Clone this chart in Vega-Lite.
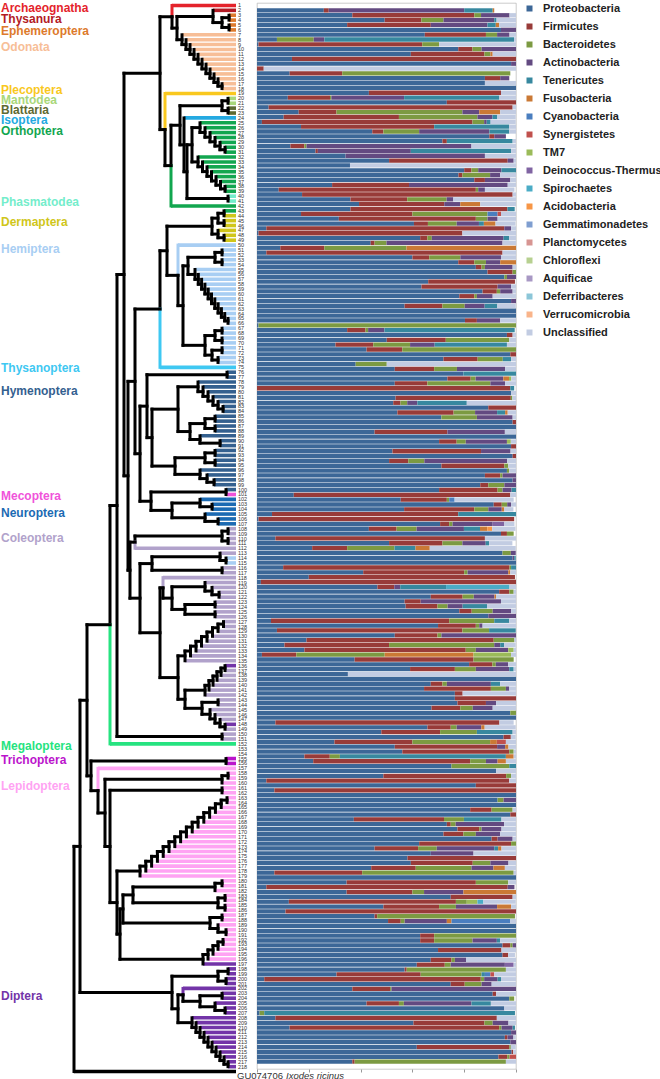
{
"padding":{"left":0,"top":1,"right":0,"bottom":0},
"background":"white",
"spacing":2,
"bounds":"flush",
"resolve":{"scale":{"color":"independent","x":"independent","y":"independent"},"legend":{"color":"independent"}},
"config":{"font":"Liberation Sans","view":{"stroke":null}},
"datasets":{
"phyla":[{"k":"P","name":"Proteobacteria","ord":1},{"k":"F","name":"Firmicutes","ord":2},{"k":"B","name":"Bacteroidetes","ord":3},{"k":"A","name":"Actinobacteria","ord":4},{"k":"T","name":"Tenericutes","ord":5},{"k":"Fu","name":"Fusobacteria","ord":6},{"k":"C","name":"Cyanobacteria","ord":7},{"k":"S","name":"Synergistetes","ord":8},{"k":"TM","name":"TM7","ord":9},{"k":"D","name":"Deinococcus-Thermus","ord":10},{"k":"Sp","name":"Spirochaetes","ord":11},{"k":"Ac","name":"Acidobacteria","ord":12},{"k":"G","name":"Gemmatimonadetes","ord":13},{"k":"Pl","name":"Planctomycetes","ord":14},{"k":"Ch","name":"Chloroflexi","ord":15},{"k":"Aq","name":"Aquificae","ord":16},{"k":"De","name":"Deferribacteres","ord":17},{"k":"V","name":"Verrucomicrobia","ord":18},{"k":"U","name":"Unclassified","ord":19}],
"bars":[
{"i":1,"P":25.8,"F":1.9,"A":52.3,"T":11,"Fu":0.6},
{"i":2,"P":36.8,"F":47.1,"B":2.6,"A":11,"U":2.5},
{"i":3,"P":49.3,"F":14.2,"B":8.5,"A":19.6,"T":0.9,"U":7.5},
{"i":4,"P":34.8,"F":32.3,"A":21.9,"T":3.2,"Fu":1.3,"U":6.5},
{"i":5,"P":94.2,"A":5.8},
{"i":6,"P":64.8,"F":23.6,"B":4.3,"A":4.8,"U":2.5},
{"i":7,"P":7.7,"B":14.2,"A":4.1,"T":73.3,"U":0.7},
{"i":8,"P":0.6,"F":63.2,"B":6.5,"U":29.7},
{"i":9,"P":77.7,"F":5.5,"B":3.5,"A":13.3},
{"i":10,"P":59.4,"F":28.4,"B":2.3,"Fu":0.9,"U":9},
{"i":11,"P":13.5,"F":86.5},
{"i":12,"P":98.1,"A":1.9},
{"i":13,"F":2.6,"U":97.4},
{"i":14,"P":12.6,"F":20.3,"B":64.9},
{"i":15,"P":88,"F":5.9,"A":3.5},
{"i":16,"P":88,"U":12},
{"i":17,"P":100},
{"i":18,"P":43.2,"F":51,"U":5.8},
{"i":19,"P":11.9,"F":16.3,"B":0.5,"A":28.1,"T":36.8,"U":6.4},
{"i":20,"P":73.3,"F":26.7},
{"i":21,"P":4.5,"F":94.2,"U":1.3},
{"i":22,"P":16.1,"F":14.6,"B":48.6,"A":6.5,"Fu":8.1,"U":6.1},
{"i":23,"P":10.3,"F":44.5,"B":30.3,"A":5.8,"T":1.9,"U":7.1},
{"i":24,"P":1.9,"F":81.3,"B":4.5,"A":1,"T":1.5,"U":9.7},
{"i":25,"P":17,"F":51.4,"T":29,"U":2.6},
{"i":26,"P":44.5,"F":4.3,"B":13.8,"A":27.1,"T":7.7,"U":2.6},
{"i":27,"P":89.7,"F":1.9,"A":4.5},
{"i":28,"P":71.6,"F":1.7,"T":25.4,"U":1.3},
{"i":29,"P":12.9,"F":5.4,"B":0.8,"A":63.7,"U":17.2},
{"i":30,"P":22.6,"F":0.9,"A":35.9,"T":38.7,"U":1.9},
{"i":31,"P":34.2,"A":53.8,"U":12},
{"i":32,"P":51,"F":45.8,"A":2.3,"U":0.9},
{"i":33,"P":35.9,"U":64.1},
{"i":34,"P":80,"F":2.8,"B":2.6,"A":9,"T":5.6},
{"i":35,"P":77.8,"F":1.5,"B":10.7,"A":3.9,"U":6.1},
{"i":36,"P":83.9,"F":4.1,"A":9.8,"U":2.2},
{"i":37,"P":29,"F":29.7,"A":38.1,"U":3.2},
{"i":38,"P":8.4,"F":76.1,"B":0.9,"A":2.6,"U":11.4},
{"i":39,"P":17.4,"F":81.3,"U":1.3},
{"i":40,"P":36.1,"F":21.9,"B":15.2,"A":2.6,"U":24.2},
{"i":41,"P":39.4,"F":32.9,"A":6.2,"Fu":7.7,"U":13.8},
{"i":42,"P":36.1,"F":60.6,"T":2.8},
{"i":43,"P":17,"F":43,"B":29,"C":3.9,"S":1.3,"U":5.8},
{"i":44,"P":31.6,"F":52.9,"B":4.5,"A":3.9,"U":7.1},
{"i":45,"P":60.6,"F":5.4,"B":11.1,"A":8.6,"T":1.9,"Fu":4.5,"U":7.7},
{"i":46,"P":3.6,"F":91.9,"A":2.6,"U":1.9},
{"i":47,"P":0.6,"F":78.7,"U":20.7},
{"i":48,"P":63,"F":2.8,"B":1.7,"A":27.7,"T":2.2,"U":2.6},
{"i":49,"P":43.9,"F":1.5,"B":4.6,"A":44.8,"U":5.2},
{"i":50,"P":9,"F":17,"B":31.7,"Fu":42.3},
{"i":51,"P":3.6,"F":91.2,"U":5.2},
{"i":52,"P":60,"F":6.5,"B":12,"A":15.7,"U":5.8},
{"i":53,"P":77.7,"F":6.2,"B":4.5,"A":5.5,"Fu":6.1},
{"i":54,"P":84.5,"F":2.2,"B":1.3,"A":10.7,"U":1.3},
{"i":55,"P":89,"F":9.7,"B":1.3},
{"i":56,"P":95.5,"B":1,"A":3.5},
{"i":57,"P":66.1,"F":33.5},
{"i":58,"P":63.5,"F":29.4,"A":5.2,"U":1.9},
{"i":59,"P":87.1,"F":5.5,"B":1.3,"A":4.8,"U":1.3},
{"i":60,"P":78.1,"F":5.8,"B":1,"A":6.1,"U":9},
{"i":61,"P":98.1,"A":1.9},
{"i":62,"P":57,"F":14.6,"B":8.6,"A":7.7,"T":4.9,"U":7.1},
{"i":63,"P":100},
{"i":64,"P":100},
{"i":65,"P":80.3,"F":4.6,"A":9,"U":6.1},
{"i":66,"P":0.6,"B":99.4},
{"i":67,"P":34.8,"F":7.1,"B":1,"A":6.3,"T":50.3},
{"i":68,"P":96.5,"F":2.2,"U":1.3},
{"i":69,"P":50.1,"F":22.8,"B":24.5,"U":2.6},
{"i":70,"P":30.3,"F":14.6,"B":14.2,"A":9.5,"T":27.9,"U":3.5},
{"i":71,"P":42.3,"F":13.8,"B":43.9},
{"i":72,"P":97.8,"F":2.2},
{"i":73,"P":72,"F":13.2,"B":9.7,"T":3.2,"U":1.9},
{"i":74,"P":38.1,"B":12,"U":49.9},
{"i":75,"P":53.2,"F":15.2,"B":8.8,"A":18.6,"U":4.2},
{"i":76,"P":79.7,"T":20.3},
{"i":77,"P":73.5,"F":9,"B":1.9,"A":10.7,"Fu":2.2,"TM":0.9,"U":1.8},
{"i":78,"P":53.2,"F":12.6,"B":24.3,"A":5.7,"U":4.2},
{"i":79,"F":97.8,"T":1.5},
{"i":80,"P":98.1,"U":1.9},
{"i":81,"P":53.5,"F":44.5,"B":0.6,"U":1.4},
{"i":82,"P":52.6,"F":2.8,"B":2.6,"A":3.9,"T":19.1,"U":19},
{"i":83,"P":89.3,"F":10.7},
{"i":84,"P":54.2,"F":21.7,"B":8.3,"A":8.5,"T":3.1,"Fu":1,"U":3.2},
{"i":85,"P":71.2,"B":13.7,"A":13.8,"U":1.3},
{"i":86,"P":98.7,"F":1.3},
{"i":87,"P":100},
{"i":88,"P":45.4,"F":28.1,"A":22.2,"U":4.3},
{"i":89,"P":100},
{"i":90,"P":70.3,"F":6.8,"B":3.5,"A":15.9,"TM":1.5,"U":2},
{"i":91,"P":98.1,"F":1.9},
{"i":92,"P":52.3,"F":34.2,"A":11.4,"U":2.1},
{"i":93,"P":98.7,"F":1.3},
{"i":94,"P":51,"F":7.4,"B":6.2,"A":32,"U":3.4},
{"i":95,"P":71.2,"F":24.3,"B":1.5,"U":3},
{"i":96,"P":96.5,"B":0.9,"U":2.6},
{"i":97,"P":88,"F":5.9,"B":0.9,"A":5.2},
{"i":98,"P":98.7,"A":1.3},
{"i":99,"P":86.2,"F":3.1,"B":6.2,"A":4.5},
{"i":100,"P":70.3,"F":22.6,"B":1.9,"A":3.5,"T":1.7},
{"i":101,"P":14.2,"F":83.6,"U":2.2},
{"i":102,"P":55.5,"F":17.8,"B":0.9,"C":2.1,"U":22.8},
{"i":103,"P":91.4,"F":3.1,"B":2.1,"A":1.5,"U":1.9},
{"i":104,"P":56.8,"F":27.1,"B":5.4,"A":5.2,"Fu":1,"U":3.5},
{"i":105,"P":5.8,"F":71.9,"T":22.3},
{"i":106,"P":0.6,"F":98.7},
{"i":107,"P":70.7,"F":3.5,"B":1.3,"A":15.5,"D":4.5,"U":3.9},
{"i":108,"P":43.2,"F":10.7,"B":7.7,"A":18.3,"T":6.2,"Fu":2.8,"Ac":1.9,"U":9},
{"i":109,"P":94.2,"F":2.3,"B":2.6},
{"i":110,"P":7.1,"F":80.9,"U":12},
{"i":111,"P":51,"F":20.6,"B":7.7,"A":9,"T":1.3,"U":9},
{"i":112,"P":21.3,"F":13.5,"B":18.3,"T":8.1,"Fu":5.5,"U":33.2},
{"i":113,"P":94.8,"B":3.2,"A":1.9},
{"i":114,"P":98.7,"A":0.6,"T":0.6},
{"i":115,"P":100},
{"i":116,"P":10.1,"F":87.4,"B":0.6,"T":1.9},
{"i":117,"P":41,"F":39,"B":1.3,"A":15.7,"Fu":0.8,"U":2.2},
{"i":118,"P":20,"F":79.6},
{"i":119,"P":1.5,"F":98.5},
{"i":120,"P":46.5,"F":6.5,"A":2.3,"T":17.7,"Sp":24.5,"U":2.5},
{"i":121,"P":93.5,"F":3.9,"B":1.7,"U":0.9},
{"i":122,"P":67.1,"F":12.3,"B":4.3,"A":8,"Fu":0.6,"U":7.7},
{"i":123,"P":57,"F":6.2,"A":31,"U":5.8},
{"i":124,"P":57.4,"F":12.3,"B":3.9,"A":5.8,"T":9.4,"U":11.2},
{"i":125,"P":78.1,"F":4.8,"B":8.1,"A":7.1,"U":1.9},
{"i":126,"P":89.3,"A":10.7},
{"i":127,"P":5.4,"F":68.8,"B":17.4,"T":5.8,"U":2.6},
{"i":128,"P":69.9,"F":14.6,"B":1.3,"A":1.3,"U":12.9},
{"i":129,"P":7.7,"F":71.6,"B":10.3,"T":10.3},
{"i":130,"P":53.2,"F":16.5,"B":1.5,"A":28.8},
{"i":131,"P":19.1,"F":72.3,"B":8,"U":0.6},
{"i":132,"P":10.6,"F":40.4,"B":40.6,"A":2.3,"T":1.5,"U":4.5},
{"i":133,"P":18.3,"F":62.3,"B":3.9,"A":12.5,"TM":2.1,"U":0.9},
{"i":134,"P":1.9,"F":13.3,"B":34.1,"Fu":34.3,"TM":14.5,"U":1.9},
{"i":135,"P":37.7,"F":45.9,"B":15.5},
{"i":136,"P":81.9,"F":9,"B":1.3,"A":4.8,"U":3},
{"i":137,"P":59.1,"F":17.3,"B":8.1,"A":12.9,"T":1.7,"U":0.9},
{"i":138,"P":35.1,"U":64.9},
{"i":139,"P":100},
{"i":140,"P":67.1,"F":4.5,"B":1.7,"A":17,"T":3.6,"U":6.1},
{"i":141,"P":64.5,"F":25.8,"B":5.8,"A":1.3,"U":2.6},
{"i":142,"P":76.4,"F":3,"U":20.6},
{"i":143,"P":76.4,"F":23.6},
{"i":144,"P":77.4,"F":11,"A":3.9,"U":7.7},
{"i":145,"P":67.4,"F":11.1,"B":4.8,"A":7.7,"U":9},
{"i":146,"P":97.8,"B":2.2},
{"i":147,"P":100},
{"i":148,"P":7.1,"F":86.5,"U":5.5},
{"i":149,"P":65.8,"F":9,"B":2.3,"A":9.5,"Fu":1.3,"U":12},
{"i":150,"P":48,"F":22.7,"B":14.2,"T":13.8,"U":1.3},
{"i":151,"P":95.2,"F":2.8,"U":1.9},
{"i":152,"P":29.9,"F":30.1,"B":30,"Fu":2.6,"S":3.5,"U":3.9},
{"i":153,"P":53.2,"F":39.5,"A":3.1,"Fu":1.3,"U":2.9},
{"i":154,"P":56.1,"F":41.3,"B":1.7,"U":0.9},
{"i":155,"P":18.3,"F":9.8,"B":3.9,"T":64.1,"Fu":3,"U":0.9},
{"i":156,"P":21.7,"F":60.6,"B":6.1,"A":4.5,"Fu":3.2,"U":3.9},
{"i":157,"P":75.1,"B":22.3,"T":2.6},
{"i":158,"P":92.3,"U":7.7},
{"i":159,"P":48.8,"F":47.4,"B":1.9,"U":1.9},
{"i":160,"P":3.6,"F":93.8,"U":2.6},
{"i":161,"P":84.5,"F":15.5},
{"i":162,"P":6.7,"F":93.3},
{"i":163,"P":100},
{"i":164,"P":92.9,"B":2.3,"A":4.8},
{"i":165,"P":100},
{"i":166,"P":82.3,"F":8.3,"B":8.1,"U":1.3},
{"i":167,"P":97.8,"F":2.2},
{"i":168,"P":37.4,"F":34.8,"B":7.7,"T":14.5,"U":5.6},
{"i":169,"P":73.3,"F":1.5,"B":1.9,"A":18.7,"U":4.6},
{"i":170,"P":77.4,"F":8.4,"B":0.9,"A":7.7,"U":5.6},
{"i":171,"P":72,"F":7.7,"B":4.8,"A":9.4,"U":6.1},
{"i":172,"P":90.6,"F":2.3,"A":5.8,"U":1.3},
{"i":173,"P":62.6,"F":35.5,"B":1.9},
{"i":174,"P":45.4,"F":16.8,"B":7.2,"A":22.2,"T":1.5,"Fu":1.3,"U":5.6},
{"i":175,"P":67.1,"A":16.5,"U":16.4},
{"i":176,"P":58.1,"F":41.9},
{"i":177,"P":59.4,"F":23.9,"B":6.8,"A":7,"U":2.9},
{"i":178,"P":44.1,"F":17.2,"B":21.5,"A":8.5,"Fu":4.4,"U":4.3},
{"i":179,"P":6.7,"F":33.9,"B":58.5,"U":0.9},
{"i":180,"P":100},
{"i":181,"P":34.6,"F":49.9,"B":12.5,"U":3},
{"i":182,"P":3.6,"F":93.2,"A":2.6},
{"i":183,"P":34.6,"F":25.4,"B":4.5,"A":15.2,"Fu":20.3},
{"i":184,"P":74.8,"F":23.9,"U":1.3},
{"i":185,"P":12.3,"F":64.5,"B":4.2,"TM":4.1,"Sp":2.3,"U":12.5},
{"i":186,"P":48.8,"F":21.5,"B":6.5,"A":15.9,"Fu":5.4,"U":1.9},
{"i":187,"P":11,"F":89},
{"i":188,"P":45.4,"F":1,"B":53.2},
{"i":189,"P":50.6,"F":4.9,"B":1.5,"A":16.3,"Fu":1.8,"C":22.7,"U":2.2},
{"i":190,"P":100},
{"i":191,"P":100},
{"i":192,"P":63,"F":5.4,"B":31.6},
{"i":193,"P":63,"F":5.4,"B":14.8,"A":9.4,"T":1.3,"U":6.1},
{"i":194,"P":94.8,"F":3,"B":0.9,"A":1.3},
{"i":195,"P":69.9,"F":24.5,"U":5.6},
{"i":196,"P":94.8,"F":2.2,"U":2.6},
{"i":197,"P":67.1,"F":8,"B":1.3,"A":4.3,"U":19.3},
{"i":198,"P":61.7,"F":10.8,"B":2.3,"A":20.9,"D":3.4,"U":0.9},
{"i":199,"P":57,"F":0.8,"B":38.3,"U":3.9},
{"i":200,"P":30.7,"F":32.5,"B":23.5,"T":1.3,"C":2.1,"S":1.5,"U":8.4},
{"i":201,"P":2.8,"F":83.6,"B":1.3,"A":5.2,"T":1.3,"U":5.8},
{"i":202,"P":74.8,"F":5.4,"B":6.5,"A":3.9,"U":9.4},
{"i":203,"P":36.8,"F":14.6,"B":0.5,"A":48.1},
{"i":204,"P":91,"F":1.3,"U":7.7},
{"i":205,"P":97.4,"B":1.9},
{"i":206,"P":42.3,"F":12.5,"B":1.9,"A":26.1,"T":7.5,"U":9.7},
{"i":207,"P":95.5,"U":4.5},
{"i":208,"P":1,"B":1.8,"T":96.8},
{"i":209,"P":7.1,"F":85.5,"U":7.4},
{"i":210,"P":60.4,"F":27.4,"B":3.2,"A":6.1,"U":2.9},
{"i":211,"P":12.6,"F":80.9,"B":0.9,"A":4.3,"T":0.9},
{"i":212,"P":98.1,"A":1.9},
{"i":213,"P":95.7,"F":1,"A":2.3,"U":0.9},
{"i":214,"P":97.8,"A":2.2},
{"i":215,"P":61.7,"F":35.7,"B":0.6,"U":1.9},
{"i":216,"P":98.3,"F":0.6,"U":1.1},
{"i":217,"P":93.2,"F":3.4,"B":0.9,"S":2.5},
{"i":218,"P":36.8,"F":0.9,"B":58.4,"U":3.9}
],
"orders":[
{"t":"Archaeognatha","r":1.51,"g":"AR"},{"t":"Thysanura","r":3.76,"g":"TH"},{"t":"Ephemeroptera","r":6.22,"g":"EP"},{"t":"Odonata","r":9.49,"g":"OD"},{"t":"Plecoptera","r":18.28,"g":"PL"},{"t":"Mantodea","r":20.33,"g":"MA"},{"t":"Blattaria","r":22.38,"g":"BL"},{"t":"Isoptera","r":24.42,"g":"IS"},{"t":"Orthoptera","r":26.67,"g":"OR"},{"t":"Phasmatodea","r":41.19,"g":"PH"},{"t":"Dermaptera","r":45.28,"g":"DE"},{"t":"Hemiptera","r":50.8,"g":"HE"},{"t":"Thysanoptera","r":75.15,"g":"TY"},{"t":"Hymenoptera","r":79.86,"g":"HY"},{"t":"Mecoptera","r":101.33,"g":"ME"},{"t":"Neuroptera","r":104.8,"g":"NE"},{"t":"Coleoptera","r":109.93,"g":"CO"},{"t":"Megaloptera","r":152.46,"g":"MG"},{"t":"Trichoptera","r":155.33,"g":"TR"},{"t":"Lepidoptera","r":160.64,"g":"LE"},{"t":"Diptera","r":203.6,"g":"DI"}
],
"outg":[{"r":219,"a":"GU074706","b":"Ixodes ricinus"}],
"leaves":[
{"r":1,"x":172,"g":"AR"},{"r":2,"x":213,"g":"TH"},{"r":3,"x":229,"g":"EP"},{"r":4,"x":229,"g":"EP"},{"r":5,"x":229,"g":"EP"},{"r":6,"x":229,"g":"EP"},
{"r":7,"x":182,"g":"OD"},{"r":8,"x":186,"g":"OD"},{"r":9,"x":190,"g":"OD"},{"r":10,"x":194,"g":"OD"},{"r":11,"x":198,"g":"OD"},{"r":12,"x":202,"g":"OD"},{"r":13,"x":206,"g":"OD"},{"r":14,"x":210,"g":"OD"},{"r":15,"x":214,"g":"OD"},{"r":16,"x":218,"g":"OD"},{"r":17,"x":222,"g":"OD"},{"r":18,"x":222,"g":"OD"},
{"r":19,"x":165,"g":"PL"},{"r":20,"x":228,"g":"MA"},{"r":21,"x":228,"g":"MA"},{"r":22,"x":228,"g":"BL"},{"r":23,"x":228,"g":"BL"},{"r":24,"x":184,"g":"IS"},
{"r":25,"x":200,"g":"OR"},{"r":26,"x":205,"g":"OR"},{"r":27,"x":210,"g":"OR"},{"r":28,"x":215,"g":"OR"},{"r":29,"x":220,"g":"OR"},{"r":30,"x":225,"g":"OR"},{"r":31,"x":225,"g":"OR"},
{"r":32,"x":198,"g":"OR"},{"r":33,"x":202.5,"g":"OR"},{"r":34,"x":207,"g":"OR"},{"r":35,"x":211.5,"g":"OR"},{"r":36,"x":216,"g":"OR"},{"r":37,"x":220.5,"g":"OR"},{"r":38,"x":225,"g":"OR"},{"r":39,"x":225,"g":"OR"},
{"r":40,"x":228,"g":"PH"},{"r":41,"x":228,"g":"PH"},{"r":42,"x":171,"g":"OR"},
{"r":43,"x":224,"g":"OR"},{"r":44,"x":224,"g":"DE"},{"r":45,"x":224,"g":"DE"},{"r":46,"x":224,"g":"DE"},{"r":47,"x":218,"g":"DE"},{"r":48,"x":224,"g":"DE"},{"r":49,"x":224,"g":"DE"},
{"r":50,"x":178,"g":"HE"},{"r":51,"x":222,"g":"HE"},{"r":52,"x":222,"g":"HE"},{"r":53,"x":222,"g":"HE"},{"r":54,"x":222,"g":"HE"},
{"r":55,"x":195,"g":"HE"},{"r":56,"x":198.3,"g":"HE"},{"r":57,"x":201.6,"g":"HE"},{"r":58,"x":204.9,"g":"HE"},{"r":59,"x":208.2,"g":"HE"},{"r":60,"x":211.5,"g":"HE"},{"r":61,"x":214.8,"g":"HE"},{"r":62,"x":218.1,"g":"HE"},{"r":63,"x":221.4,"g":"HE"},{"r":64,"x":224.7,"g":"HE"},{"r":65,"x":228,"g":"HE"},{"r":66,"x":228,"g":"HE"},
{"r":67,"x":222,"g":"HE"},{"r":68,"x":222,"g":"HE"},{"r":69,"x":222,"g":"HE"},{"r":70,"x":222,"g":"HE"},{"r":71,"x":222,"g":"HE"},{"r":72,"x":222,"g":"HE"},{"r":73,"x":218,"g":"HE"},{"r":74,"x":218,"g":"HE"},
{"r":75,"x":160,"g":"TY"},{"r":76,"x":227,"g":"HY"},{"r":77,"x":227,"g":"HY"},
{"r":78,"x":198,"g":"HY"},{"r":79,"x":203,"g":"HY"},{"r":80,"x":208,"g":"HY"},{"r":81,"x":213,"g":"HY"},{"r":82,"x":218,"g":"HY"},{"r":83,"x":223,"g":"HY"},{"r":84,"x":223,"g":"HY"},
{"r":85,"x":215,"g":"HY"},{"r":86,"x":215,"g":"HY"},{"r":87,"x":215,"g":"HY"},{"r":88,"x":215,"g":"HY"},{"r":89,"x":200,"g":"HY"},{"r":90,"x":220,"g":"HY"},{"r":91,"x":220,"g":"HY"},
{"r":92,"x":215,"g":"HY"},{"r":93,"x":215,"g":"HY"},{"r":94,"x":215,"g":"HY"},{"r":95,"x":215,"g":"HY"},{"r":96,"x":200,"g":"HY"},{"r":97,"x":207,"g":"HY"},{"r":98,"x":214,"g":"HY"},{"r":99,"x":214,"g":"HY"},
{"r":100,"x":226,"g":"HY"},{"r":101,"x":226,"g":"ME"},
{"r":102,"x":200,"g":"NE"},{"r":103,"x":212,"g":"NE"},{"r":104,"x":212,"g":"NE"},{"r":105,"x":205,"g":"NE"},{"r":106,"x":218,"g":"NE"},{"r":107,"x":218,"g":"NE"},
{"r":108,"x":228,"g":"CO"},{"r":109,"x":228,"g":"CO"},{"r":110,"x":228,"g":"CO"},{"r":111,"x":228,"g":"CO"},{"r":112,"x":135,"g":"CO"},
{"r":113,"x":220,"g":"CO"},{"r":114,"x":226,"g":"HE"},{"r":115,"x":226,"g":"HE"},{"r":116,"x":222,"g":"CO"},{"r":117,"x":222,"g":"CO"},
{"r":118,"x":163,"g":"CO"},{"r":119,"x":205,"g":"CO"},{"r":120,"x":212,"g":"CO"},{"r":121,"x":219,"g":"CO"},{"r":122,"x":219,"g":"CO"},
{"r":123,"x":215,"g":"CO"},{"r":124,"x":215,"g":"CO"},{"r":125,"x":215,"g":"CO"},{"r":126,"x":215,"g":"CO"},
{"r":127,"x":223.5,"g":"CO"},{"r":128,"x":223.5,"g":"CO"},{"r":129,"x":218,"g":"CO"},{"r":130,"x":212.5,"g":"CO"},{"r":131,"x":207,"g":"CO"},{"r":132,"x":201.5,"g":"CO"},{"r":133,"x":196,"g":"CO"},{"r":134,"x":190.5,"g":"CO"},{"r":135,"x":185,"g":"CO"},
{"r":136,"x":225,"g":"DI"},{"r":137,"x":225,"g":"CO"},{"r":138,"x":221,"g":"CO"},{"r":139,"x":217,"g":"CO"},{"r":140,"x":213,"g":"CO"},{"r":141,"x":209,"g":"CO"},{"r":142,"x":205,"g":"CO"},
{"r":143,"x":218,"g":"CO"},{"r":144,"x":218,"g":"CO"},{"r":145,"x":210,"g":"CO"},{"r":146,"x":215,"g":"CO"},{"r":147,"x":220,"g":"CO"},{"r":148,"x":225,"g":"DI"},{"r":149,"x":225,"g":"CO"},
{"r":150,"x":222,"g":"CO"},{"r":151,"x":222,"g":"CO"},{"r":152,"x":110,"g":"MG"},
{"r":155,"x":226,"g":"TR"},{"r":156,"x":226,"g":"TR"},{"r":157,"x":98,"g":"LE"},
{"r":158,"x":228,"g":"LE"},{"r":159,"x":228,"g":"LE"},{"r":160,"x":222,"g":"LE"},{"r":161,"x":222,"g":"LE"},{"r":162,"x":222,"g":"LE"},
{"r":163,"x":227,"g":"LE"},{"r":164,"x":227,"g":"LE"},{"r":165,"x":221.2,"g":"LE"},{"r":166,"x":215.4,"g":"LE"},{"r":167,"x":209.6,"g":"LE"},{"r":168,"x":203.8,"g":"LE"},{"r":169,"x":198,"g":"LE"},{"r":170,"x":192.2,"g":"LE"},{"r":171,"x":186.4,"g":"LE"},{"r":172,"x":180.6,"g":"LE"},{"r":173,"x":174.8,"g":"LE"},{"r":174,"x":169,"g":"LE"},{"r":175,"x":163.2,"g":"LE"},{"r":176,"x":157.4,"g":"LE"},{"r":177,"x":151.6,"g":"LE"},{"r":178,"x":145.8,"g":"LE"},{"r":179,"x":140,"g":"LE"},
{"r":180,"x":222,"g":"LE"},{"r":181,"x":222,"g":"LE"},{"r":182,"x":215,"g":"LE"},{"r":183,"x":225,"g":"LE"},{"r":184,"x":225,"g":"LE"},{"r":185,"x":225,"g":"LE"},{"r":186,"x":225,"g":"LE"},
{"r":187,"x":222,"g":"LE"},{"r":188,"x":222,"g":"LE"},{"r":189,"x":218,"g":"LE"},{"r":190,"x":226,"g":"LE"},{"r":191,"x":226,"g":"LE"},
{"r":192,"x":223,"g":"LE"},{"r":193,"x":223,"g":"LE"},{"r":194,"x":218,"g":"LE"},{"r":195,"x":213,"g":"LE"},{"r":196,"x":208,"g":"LE"},{"r":197,"x":203,"g":"DI"},
{"r":198,"x":228,"g":"DI"},{"r":199,"x":228,"g":"DI"},{"r":200,"x":226,"g":"DI"},{"r":201,"x":226,"g":"DI"},{"r":202,"x":183,"g":"DI"},
{"r":203,"x":222,"g":"DI"},{"r":204,"x":222,"g":"DI"},{"r":205,"x":215,"g":"DI"},{"r":206,"x":225,"g":"DI"},{"r":207,"x":225,"g":"DI"},
{"r":208,"x":192,"g":"DI"},{"r":209,"x":196,"g":"DI"},{"r":210,"x":200,"g":"DI"},{"r":211,"x":204,"g":"DI"},{"r":212,"x":208,"g":"DI"},{"r":213,"x":212,"g":"DI"},{"r":214,"x":216,"g":"DI"},{"r":215,"x":220,"g":"DI"},{"r":216,"x":224,"g":"DI"},{"r":217,"x":228,"g":"DI"},{"r":218,"x":228,"g":"DI"},
{"r":219,"x":74,"g":"k"}
],
"vs":[
{"x":172,"y":1,"y2":3.31,"g":"AR"},{"x":172,"y":3.31,"y2":5.63,"g":"k"},{"x":177,"y":3.25,"y2":8,"g":"k"},{"x":213,"y":2,"y2":4.5,"g":"k"},{"x":222,"y":3.5,"y2":5.5,"g":"k"},{"x":229,"y":3,"y2":4,"g":"k"},{"x":229,"y":5,"y2":6,"g":"k"},
{"x":182,"y":7,"y2":9,"g":"k"},{"x":186,"y":8,"y2":10,"g":"k"},{"x":190,"y":9,"y2":11,"g":"k"},{"x":194,"y":10,"y2":11.99,"g":"k"},{"x":198,"y":11,"y2":12.98,"g":"k"},{"x":202,"y":12,"y2":13.97,"g":"k"},{"x":206,"y":13,"y2":14.94,"g":"k"},{"x":210,"y":14,"y2":15.88,"g":"k"},{"x":214,"y":15,"y2":16.75,"g":"k"},{"x":218,"y":16,"y2":17.5,"g":"k"},{"x":222,"y":17,"y2":18,"g":"k"},
{"x":160,"y":3.31,"y2":26.38,"g":"k"},{"x":165,"y":19,"y2":26.38,"g":"PL"},{"x":165,"y":26.38,"y2":33.75,"g":"k"},{"x":171,"y":25.5,"y2":33.75,"g":"k"},{"x":171,"y":33.75,"y2":42,"g":"OR"},
{"x":180,"y":21.5,"y2":29.5,"g":"k"},{"x":222,"y":20.5,"y2":22.5,"g":"k"},{"x":228,"y":20,"y2":21,"g":"k"},{"x":228,"y":22,"y2":23,"g":"k"},{"x":184,"y":24,"y2":35,"g":"k"},{"x":187,"y":29.49,"y2":40.5,"g":"k"},{"x":192,"y":25.98,"y2":32.99,"g":"k"},
{"x":200,"y":25,"y2":26.97,"g":"k"},{"x":205,"y":26,"y2":27.94,"g":"k"},{"x":210,"y":27,"y2":28.88,"g":"k"},{"x":215,"y":28,"y2":29.75,"g":"k"},{"x":220,"y":29,"y2":30.5,"g":"k"},{"x":225,"y":30,"y2":31,"g":"k"},
{"x":198,"y":32,"y2":33.98,"g":"k"},{"x":202.5,"y":33,"y2":34.97,"g":"k"},{"x":207,"y":34,"y2":35.94,"g":"k"},{"x":211.5,"y":35,"y2":36.88,"g":"k"},{"x":216,"y":36,"y2":37.75,"g":"k"},{"x":220.5,"y":37,"y2":38.5,"g":"k"},{"x":225,"y":38,"y2":39,"g":"k"},{"x":228,"y":40,"y2":41,"g":"k"},
{"x":212,"y":44.5,"y2":47.75,"g":"k"},{"x":218,"y":43.5,"y2":45.5,"g":"k"},{"x":224,"y":43,"y2":44,"g":"k"},{"x":224,"y":45,"y2":46,"g":"k"},{"x":218,"y":47,"y2":48.5,"g":"k"},{"x":224,"y":48,"y2":49,"g":"k"},
{"x":178,"y":50,"y2":56.19,"g":"HE"},{"x":178,"y":56.19,"y2":62.38,"g":"k"},{"x":183,"y":54.25,"y2":70.5,"g":"k"},{"x":188,"y":52.5,"y2":56,"g":"k"},{"x":215,"y":51.5,"y2":53.5,"g":"k"},{"x":222,"y":51,"y2":52,"g":"k"},{"x":222,"y":53,"y2":54,"g":"k"},
{"x":195,"y":55,"y2":57,"g":"k"},{"x":198.3,"y":56,"y2":58,"g":"k"},{"x":201.6,"y":57,"y2":59,"g":"k"},{"x":204.9,"y":58,"y2":59.99,"g":"k"},{"x":208.2,"y":59,"y2":60.98,"g":"k"},{"x":211.5,"y":60,"y2":61.97,"g":"k"},{"x":214.8,"y":61,"y2":62.94,"g":"k"},{"x":218.1,"y":62,"y2":63.88,"g":"k"},{"x":221.4,"y":63,"y2":64.75,"g":"k"},{"x":224.7,"y":64,"y2":65.5,"g":"k"},{"x":228,"y":65,"y2":66,"g":"k"},
{"x":205,"y":68.5,"y2":72.5,"g":"k"},{"x":215,"y":67.5,"y2":69.5,"g":"k"},{"x":222,"y":67,"y2":68,"g":"k"},{"x":222,"y":69,"y2":70,"g":"k"},{"x":212,"y":71.5,"y2":73.5,"g":"k"},{"x":222,"y":71,"y2":72,"g":"k"},{"x":218,"y":73,"y2":74,"g":"k"},
{"x":167,"y":46.13,"y2":56.19,"g":"k"},{"x":160,"y":51.16,"y2":63.08,"g":"k"},{"x":160,"y":63.08,"y2":75,"g":"TY"},
{"x":227,"y":76,"y2":77,"g":"k"},{"x":198,"y":78,"y2":79.97,"g":"k"},{"x":203,"y":79,"y2":80.94,"g":"k"},{"x":208,"y":80,"y2":81.88,"g":"k"},{"x":213,"y":81,"y2":82.75,"g":"k"},{"x":218,"y":82,"y2":83.5,"g":"k"},{"x":223,"y":83,"y2":84,"g":"k"},
{"x":190,"y":86.5,"y2":89.75,"g":"k"},{"x":205,"y":85.5,"y2":87.5,"g":"k"},{"x":215,"y":85,"y2":86,"g":"k"},{"x":215,"y":87,"y2":88,"g":"k"},{"x":200,"y":89,"y2":90.5,"g":"k"},{"x":220,"y":90,"y2":91,"g":"k"},{"x":178,"y":78.98,"y2":88.13,"g":"k"},
{"x":175,"y":93.5,"y2":96.88,"g":"k"},{"x":205,"y":92.5,"y2":94.5,"g":"k"},{"x":215,"y":92,"y2":93,"g":"k"},{"x":215,"y":94,"y2":95,"g":"k"},{"x":200,"y":96,"y2":97.75,"g":"k"},{"x":207,"y":97,"y2":98.5,"g":"k"},{"x":214,"y":98,"y2":99,"g":"k"},
{"x":152,"y":83.55,"y2":95.19,"g":"k"},{"x":147,"y":76.5,"y2":89.37,"g":"k"},{"x":226,"y":100,"y2":101,"g":"k"},
{"x":172,"y":102.75,"y2":105.75,"g":"k"},{"x":200,"y":102,"y2":103.5,"g":"k"},{"x":212,"y":103,"y2":104,"g":"k"},{"x":205,"y":105,"y2":106.5,"g":"k"},{"x":218,"y":106,"y2":107,"g":"k"},
{"x":151,"y":100.5,"y2":104.25,"g":"k"},{"x":140,"y":82.94,"y2":102.38,"g":"k"},{"x":135,"y":63.08,"y2":92.66,"g":"k"},
{"x":135,"y":109.5,"y2":110.75,"g":"k"},{"x":135,"y":110.75,"y2":112,"g":"CO"},{"x":222,"y":108.5,"y2":110.5,"g":"k"},{"x":228,"y":108,"y2":109,"g":"k"},{"x":228,"y":110,"y2":111,"g":"k"},
{"x":152,"y":113.75,"y2":116.5,"g":"k"},{"x":220,"y":113,"y2":114.5,"g":"k"},{"x":226,"y":114,"y2":115,"g":"k"},{"x":222,"y":116,"y2":117,"g":"k"},
{"x":163,"y":118,"y2":120.1,"g":"CO"},{"x":163,"y":120.1,"y2":122.19,"g":"k"},{"x":172,"y":119.88,"y2":124.5,"g":"k"},{"x":205,"y":119,"y2":120.75,"g":"k"},{"x":212,"y":120,"y2":121.5,"g":"k"},{"x":219,"y":121,"y2":122,"g":"k"},{"x":185,"y":123.5,"y2":125.5,"g":"k"},{"x":215,"y":123,"y2":124,"g":"k"},{"x":215,"y":125,"y2":126,"g":"k"},
{"x":223.5,"y":127,"y2":128,"g":"k"},{"x":218,"y":127.5,"y2":129,"g":"k"},{"x":212.5,"y":128.25,"y2":130,"g":"k"},{"x":207,"y":129.13,"y2":131,"g":"k"},{"x":201.5,"y":130.06,"y2":132,"g":"k"},{"x":196,"y":131.03,"y2":133,"g":"k"},{"x":190.5,"y":132.02,"y2":134,"g":"k"},{"x":185,"y":133.01,"y2":135,"g":"k"},
{"x":225,"y":136,"y2":137,"g":"k"},{"x":221,"y":136.5,"y2":138,"g":"k"},{"x":217,"y":137.25,"y2":139,"g":"k"},{"x":213,"y":138.13,"y2":140,"g":"k"},{"x":209,"y":139.06,"y2":141,"g":"k"},{"x":205,"y":140.03,"y2":142,"g":"k"},
{"x":202,"y":143.5,"y2":145.94,"g":"k"},{"x":218,"y":143,"y2":144,"g":"k"},{"x":210,"y":145,"y2":146.88,"g":"k"},{"x":215,"y":146,"y2":147.75,"g":"k"},{"x":220,"y":147,"y2":148.5,"g":"k"},{"x":225,"y":148,"y2":149,"g":"k"},
{"x":185,"y":141.02,"y2":144.72,"g":"k"},{"x":178,"y":134,"y2":142.87,"g":"k"},{"x":160,"y":120.1,"y2":138.44,"g":"k"},{"x":140,"y":115.13,"y2":129.27,"g":"k"},{"x":130,"y":110.75,"y2":122.2,"g":"k"},{"x":128,"y":77.87,"y2":116.48,"g":"k"},
{"x":124,"y":14.85,"y2":97.18,"g":"k"},{"x":222,"y":150,"y2":151,"g":"k"},{"x":117,"y":56.02,"y2":150.5,"g":"k"},{"x":110,"y":103.26,"y2":127.63,"g":"k"},{"x":110,"y":127.63,"y2":152,"g":"MG"},
{"x":226,"y":155,"y2":156,"g":"k"},{"x":222,"y":158.5,"y2":160,"g":"k"},{"x":228,"y":158,"y2":159,"g":"k"},{"x":222,"y":161,"y2":162,"g":"k"},
{"x":227,"y":163,"y2":164,"g":"k"},{"x":221.2,"y":163.5,"y2":165,"g":"k"},{"x":215.4,"y":164.25,"y2":166,"g":"k"},{"x":209.6,"y":165.13,"y2":167,"g":"k"},{"x":203.8,"y":166.06,"y2":168,"g":"k"},{"x":198,"y":167.03,"y2":169,"g":"k"},{"x":192.2,"y":168.02,"y2":170,"g":"k"},{"x":186.4,"y":169.01,"y2":171,"g":"k"},{"x":180.6,"y":170,"y2":172,"g":"k"},{"x":174.8,"y":171,"y2":173,"g":"k"},{"x":169,"y":172,"y2":174,"g":"k"},{"x":163.2,"y":173,"y2":175,"g":"k"},{"x":157.4,"y":174,"y2":176,"g":"k"},{"x":151.6,"y":175,"y2":177,"g":"k"},{"x":145.8,"y":176,"y2":178,"g":"k"},{"x":140,"y":177,"y2":179,"g":"k"},
{"x":215,"y":180.5,"y2":182,"g":"k"},{"x":222,"y":180,"y2":181,"g":"k"},{"x":218,"y":183.5,"y2":185.5,"g":"k"},{"x":225,"y":183,"y2":184,"g":"k"},{"x":225,"y":185,"y2":186,"g":"k"},{"x":133,"y":181.25,"y2":184.5,"g":"k"},
{"x":210,"y":187.5,"y2":189.75,"g":"k"},{"x":222,"y":187,"y2":188,"g":"k"},{"x":218,"y":189,"y2":190.5,"g":"k"},{"x":226,"y":190,"y2":191,"g":"k"},{"x":123,"y":182.88,"y2":188.63,"g":"k"},
{"x":223,"y":192,"y2":193,"g":"k"},{"x":218,"y":192.5,"y2":194,"g":"k"},{"x":213,"y":193.25,"y2":195,"g":"k"},{"x":208,"y":194.13,"y2":196,"g":"k"},{"x":203,"y":195.06,"y2":197,"g":"k"},
{"x":120,"y":185.75,"y2":196.03,"g":"k"},{"x":117,"y":178,"y2":190.89,"g":"k"},{"x":110,"y":161.5,"y2":184.45,"g":"k"},{"x":105,"y":159.25,"y2":172.98,"g":"k"},{"x":98,"y":157,"y2":161.56,"g":"LE"},{"x":98,"y":161.56,"y2":166.12,"g":"k"},{"x":91,"y":155.5,"y2":161.56,"g":"k"},{"x":87,"y":127.63,"y2":158.53,"g":"k"},
{"x":218,"y":198.5,"y2":200.5,"g":"k"},{"x":228,"y":198,"y2":199,"g":"k"},{"x":226,"y":200,"y2":201,"g":"k"},
{"x":183,"y":202,"y2":203.31,"g":"DI"},{"x":183,"y":203.31,"y2":204.63,"g":"k"},{"x":200,"y":203.5,"y2":205.75,"g":"k"},{"x":222,"y":203,"y2":204,"g":"k"},{"x":215,"y":205,"y2":206.5,"g":"k"},{"x":225,"y":206,"y2":207,"g":"k"},
{"x":192,"y":208,"y2":210,"g":"k"},{"x":196,"y":209,"y2":211,"g":"k"},{"x":200,"y":210,"y2":211.99,"g":"k"},{"x":204,"y":211,"y2":212.98,"g":"k"},{"x":208,"y":212,"y2":213.97,"g":"k"},{"x":212,"y":213,"y2":214.94,"g":"k"},{"x":216,"y":214,"y2":215.88,"g":"k"},{"x":220,"y":215,"y2":216.75,"g":"k"},{"x":224,"y":216,"y2":217.5,"g":"k"},{"x":228,"y":217,"y2":218,"g":"k"},
{"x":178,"y":203.31,"y2":209,"g":"k"},{"x":172,"y":199.5,"y2":206.16,"g":"k"},{"x":80,"y":143.08,"y2":202.83,"g":"k"},{"x":74,"y":172.96,"y2":219,"g":"k"}
],
"hs":[
{"x":160,"x2":172,"y":3.31},{"x":160,"x2":165,"y":26.38},{"x":172,"x2":177,"y":5.63},{"x":177,"x2":213,"y":3.25},{"x":177,"x2":182,"y":8},{"x":213,"x2":222,"y":4.5},{"x":222,"x2":229,"y":3.5},{"x":222,"x2":229,"y":5.5},
{"x":182,"x2":186,"y":9},{"x":186,"x2":190,"y":10},{"x":190,"x2":194,"y":11},{"x":194,"x2":198,"y":11.99},{"x":198,"x2":202,"y":12.98},{"x":202,"x2":206,"y":13.97},{"x":206,"x2":210,"y":14.94},{"x":210,"x2":214,"y":15.88},{"x":214,"x2":218,"y":16.75},{"x":218,"x2":222,"y":17.5},
{"x":165,"x2":171,"y":33.75},{"x":171,"x2":180,"y":25.5},{"x":180,"x2":222,"y":21.5},{"x":180,"x2":184,"y":29.5},{"x":222,"x2":228,"y":20.5},{"x":222,"x2":228,"y":22.5},{"x":184,"x2":187,"y":35},{"x":187,"x2":192,"y":29.49},{"x":187,"x2":228,"y":40.5},{"x":192,"x2":200,"y":25.98},{"x":192,"x2":198,"y":32.99},
{"x":200,"x2":205,"y":26.97},{"x":205,"x2":210,"y":27.94},{"x":210,"x2":215,"y":28.88},{"x":215,"x2":220,"y":29.75},{"x":220,"x2":225,"y":30.5},
{"x":198,"x2":202.5,"y":33.98},{"x":202.5,"x2":207,"y":34.97},{"x":207,"x2":211.5,"y":35.94},{"x":211.5,"x2":216,"y":36.88},{"x":216,"x2":220.5,"y":37.75},{"x":220.5,"x2":225,"y":38.5},
{"x":212,"x2":218,"y":44.5},{"x":212,"x2":218,"y":47.75},{"x":218,"x2":224,"y":43.5},{"x":218,"x2":224,"y":45.5},{"x":218,"x2":224,"y":48.5},
{"x":178,"x2":183,"y":62.38},{"x":183,"x2":188,"y":54.25},{"x":183,"x2":205,"y":70.5},{"x":188,"x2":215,"y":52.5},{"x":188,"x2":195,"y":56},{"x":215,"x2":222,"y":51.5},{"x":215,"x2":222,"y":53.5},
{"x":195,"x2":198.3,"y":57},{"x":198.3,"x2":201.6,"y":58},{"x":201.6,"x2":204.9,"y":59},{"x":204.9,"x2":208.2,"y":59.99},{"x":208.2,"x2":211.5,"y":60.98},{"x":211.5,"x2":214.8,"y":61.97},{"x":214.8,"x2":218.1,"y":62.94},{"x":218.1,"x2":221.4,"y":63.88},{"x":221.4,"x2":224.7,"y":64.75},{"x":224.7,"x2":228,"y":65.5},
{"x":205,"x2":215,"y":68.5},{"x":205,"x2":212,"y":72.5},{"x":215,"x2":222,"y":67.5},{"x":215,"x2":222,"y":69.5},{"x":212,"x2":222,"y":71.5},{"x":212,"x2":218,"y":73.5},
{"x":167,"x2":212,"y":46.13},{"x":167,"x2":178,"y":56.19},{"x":160,"x2":167,"y":51.16},
{"x":198,"x2":203,"y":79.97},{"x":203,"x2":208,"y":80.94},{"x":208,"x2":213,"y":81.88},{"x":213,"x2":218,"y":82.75},{"x":218,"x2":223,"y":83.5},
{"x":190,"x2":205,"y":86.5},{"x":190,"x2":200,"y":89.75},{"x":205,"x2":215,"y":85.5},{"x":205,"x2":215,"y":87.5},{"x":200,"x2":220,"y":90.5},{"x":178,"x2":198,"y":78.98},{"x":178,"x2":190,"y":88.13},
{"x":175,"x2":205,"y":93.5},{"x":175,"x2":200,"y":96.88},{"x":205,"x2":215,"y":92.5},{"x":205,"x2":215,"y":94.5},{"x":200,"x2":207,"y":97.75},{"x":207,"x2":214,"y":98.5},
{"x":152,"x2":178,"y":83.55},{"x":152,"x2":175,"y":95.19},{"x":147,"x2":227,"y":76.5},{"x":147,"x2":152,"y":89.37},
{"x":172,"x2":200,"y":102.75},{"x":172,"x2":205,"y":105.75},{"x":200,"x2":212,"y":103.5},{"x":205,"x2":218,"y":106.5},
{"x":151,"x2":226,"y":100.5},{"x":151,"x2":172,"y":104.25},{"x":140,"x2":147,"y":82.94},{"x":140,"x2":151,"y":102.38},{"x":135,"x2":160,"y":63.08},{"x":135,"x2":140,"y":92.66},
{"x":135,"x2":222,"y":109.5},{"x":222,"x2":228,"y":108.5},{"x":222,"x2":228,"y":110.5},
{"x":152,"x2":220,"y":113.75},{"x":152,"x2":222,"y":116.5},{"x":220,"x2":226,"y":114.5},
{"x":163,"x2":172,"y":122.19},{"x":172,"x2":205,"y":119.88},{"x":172,"x2":185,"y":124.5},{"x":205,"x2":212,"y":120.75},{"x":212,"x2":219,"y":121.5},{"x":185,"x2":215,"y":123.5},{"x":185,"x2":215,"y":125.5},
{"x":218,"x2":223.5,"y":127.5},{"x":212.5,"x2":218,"y":128.25},{"x":207,"x2":212.5,"y":129.13},{"x":201.5,"x2":207,"y":130.06},{"x":196,"x2":201.5,"y":131.03},{"x":190.5,"x2":196,"y":132.02},{"x":185,"x2":190.5,"y":133.01},
{"x":221,"x2":225,"y":136.5},{"x":217,"x2":221,"y":137.25},{"x":213,"x2":217,"y":138.13},{"x":209,"x2":213,"y":139.06},{"x":205,"x2":209,"y":140.03},
{"x":202,"x2":218,"y":143.5},{"x":202,"x2":210,"y":145.94},{"x":210,"x2":215,"y":146.88},{"x":215,"x2":220,"y":147.75},{"x":220,"x2":225,"y":148.5},
{"x":185,"x2":205,"y":141.02},{"x":185,"x2":202,"y":144.72},{"x":178,"x2":185,"y":134},{"x":178,"x2":185,"y":142.87},{"x":160,"x2":163,"y":120.1},{"x":160,"x2":178,"y":138.44},{"x":140,"x2":152,"y":115.13},{"x":140,"x2":160,"y":129.27},{"x":130,"x2":135,"y":110.75},{"x":130,"x2":140,"y":122.2},{"x":128,"x2":135,"y":77.87},{"x":128,"x2":130,"y":116.48},
{"x":124,"x2":160,"y":14.85},{"x":124,"x2":128,"y":97.18},{"x":117,"x2":124,"y":56.02},{"x":117,"x2":222,"y":150.5},{"x":110,"x2":117,"y":103.26},
{"x":222,"x2":228,"y":158.5},
{"x":221.2,"x2":227,"y":163.5},{"x":215.4,"x2":221.2,"y":164.25},{"x":209.6,"x2":215.4,"y":165.13},{"x":203.8,"x2":209.6,"y":166.06},{"x":198,"x2":203.8,"y":167.03},{"x":192.2,"x2":198,"y":168.02},{"x":186.4,"x2":192.2,"y":169.01},{"x":180.6,"x2":186.4,"y":170},{"x":174.8,"x2":180.6,"y":171},{"x":169,"x2":174.8,"y":172},{"x":163.2,"x2":169,"y":173},{"x":157.4,"x2":163.2,"y":174},{"x":151.6,"x2":157.4,"y":175},{"x":145.8,"x2":151.6,"y":176},{"x":140,"x2":145.8,"y":177},
{"x":215,"x2":222,"y":180.5},{"x":218,"x2":225,"y":183.5},{"x":218,"x2":225,"y":185.5},{"x":133,"x2":215,"y":181.25},{"x":133,"x2":218,"y":184.5},
{"x":210,"x2":222,"y":187.5},{"x":210,"x2":218,"y":189.75},{"x":218,"x2":226,"y":190.5},{"x":123,"x2":133,"y":182.88},{"x":123,"x2":210,"y":188.63},
{"x":218,"x2":223,"y":192.5},{"x":213,"x2":218,"y":193.25},{"x":208,"x2":213,"y":194.13},{"x":203,"x2":208,"y":195.06},
{"x":120,"x2":123,"y":185.75},{"x":120,"x2":203,"y":196.03},{"x":117,"x2":140,"y":178},{"x":117,"x2":120,"y":190.89},{"x":110,"x2":222,"y":161.5},{"x":110,"x2":117,"y":184.45},{"x":105,"x2":222,"y":159.25},{"x":105,"x2":110,"y":172.98},{"x":98,"x2":105,"y":166.12},{"x":91,"x2":226,"y":155.5},{"x":91,"x2":98,"y":161.56},{"x":87,"x2":110,"y":127.63},{"x":87,"x2":91,"y":158.53},
{"x":218,"x2":228,"y":198.5},{"x":218,"x2":226,"y":200.5},{"x":183,"x2":200,"y":204.63},{"x":200,"x2":222,"y":203.5},{"x":200,"x2":215,"y":205.75},{"x":215,"x2":225,"y":206.5},
{"x":192,"x2":196,"y":210},{"x":196,"x2":200,"y":211},{"x":200,"x2":204,"y":211.99},{"x":204,"x2":208,"y":212.98},{"x":208,"x2":212,"y":213.97},{"x":212,"x2":216,"y":214.94},{"x":216,"x2":220,"y":215.88},{"x":220,"x2":224,"y":216.75},{"x":224,"x2":228,"y":217.5},
{"x":178,"x2":183,"y":203.31},{"x":178,"x2":192,"y":209},{"x":172,"x2":218,"y":199.5},{"x":172,"x2":178,"y":206.16},{"x":80,"x2":87,"y":143.08},{"x":80,"x2":172,"y":202.83},{"x":74,"x2":80,"y":172.96}
]
},
"hconcat":[
{
"width":255,"height":1071,
"view":{"stroke":null},
"layer":[
{"data":{"name":"leaves"},"mark":{"type":"rule","strokeWidth":3.6},
 "encoding":{
  "x":{"field":"x","type":"quantitative","scale":{"domain":[0,255],"nice":false,"zero":false},"axis":null},
  "x2":{"datum":236},
  "y":{"field":"r","type":"quantitative","scale":{"domain":[0.5,219.5],"reverse":true,"nice":false,"zero":false},"axis":null},
  "color":{"field":"g","type":"nominal","legend":null,"scale":{"domain":["AR","TH","EP","OD","PL","MA","BL","IS","OR","PH","DE","HE","TY","HY","ME","NE","CO","MG","TR","LE","DI","k"],"range":["#E4232B","#B31B25","#DD7A2C","#F7BE97","#F9C81E","#A9D77A","#5E6A32","#24A9E1","#12A64F","#74EDCB","#D0C61A","#A8CEF3","#3FC8F2","#34608F","#F053DA","#1B6AB3","#B1A2CB","#26E380","#BB14CC","#FFA3F3","#7334A8","#000000"]}}
 }},
{"data":{"name":"vs"},"mark":{"type":"rule","strokeWidth":3,"strokeCap":"square"},
 "encoding":{
  "x":{"field":"x","type":"quantitative","axis":null},
  "y":{"field":"y","type":"quantitative","axis":null},
  "y2":{"field":"y2"},
  "color":{"field":"g","type":"nominal","legend":null}
 }},
{"data":{"name":"hs"},"mark":{"type":"rule","strokeWidth":3,"strokeCap":"square","color":"#000000"},
 "encoding":{
  "x":{"field":"x","type":"quantitative","axis":null},
  "x2":{"field":"x2"},
  "y":{"field":"y","type":"quantitative","axis":null}
 }},
{"data":{"name":"orders"},"mark":{"type":"text","align":"left","baseline":"middle","font":"Liberation Sans","fontSize":12,"fontWeight":"bold"},
 "encoding":{
  "x":{"datum":1},
  "y":{"field":"r","type":"quantitative","axis":null},
  "text":{"field":"t"},
  "color":{"field":"g","type":"nominal","legend":null}
 }},
{"data":{"name":"bars"},"mark":{"type":"text","align":"left","baseline":"middle","font":"Liberation Sans","fontSize":5.5,"color":"#333333"},
 "encoding":{
  "x":{"datum":238},
  "y":{"field":"i","type":"quantitative","axis":null},
  "text":{"field":"i"}
 }},
{"data":{"name":"outg"},"mark":{"type":"text","align":"left","baseline":"middle","font":"Liberation Sans","fontSize":9.5,"color":"#333333","dy":4},
 "encoding":{
  "x":{"datum":237},
  "y":{"field":"r","type":"quantitative","axis":null},
  "text":{"field":"a"}
 }},
{"data":{"name":"outg"},"mark":{"type":"text","align":"left","baseline":"middle","font":"Liberation Sans","fontSize":9.5,"fontStyle":"italic","color":"#333333","dy":4,"dx":49},
 "encoding":{
  "x":{"datum":237},
  "y":{"field":"r","type":"quantitative","axis":null},
  "text":{"field":"b"}
 }}
]
},
{
"width":259,"height":1066,
"view":{"stroke":"#b5b5b5","strokeWidth":0.7},
"data":{"name":"bars"},
"transform":[
 {"fold":["P","F","B","A","T","Fu","C","S","TM","D","Sp","Ac","U"],"as":["k","v"]},
 {"filter":{"field":"v","valid":true}},
 {"lookup":"k","from":{"data":{"name":"phyla"},"key":"k","fields":["name","ord"]}}
],
"mark":{"type":"bar","orient":"horizontal","size":4.3,"clip":true},
"encoding":{
 "x":{"field":"v","type":"quantitative","stack":"zero","scale":{"domain":[0,100],"nice":false},"axis":{"orient":"bottom","values":[0,20,40,60,80,100],"labels":false,"domain":false,"ticks":true,"tickSize":3,"tickColor":"#999999","grid":false,"title":null}},
 "y":{"field":"i","type":"quantitative","scale":{"domain":[0.5,218.5],"reverse":true,"nice":false,"zero":false},"axis":null},
 "color":{"field":"name","type":"nominal",
  "scale":{"domain":["Proteobacteria","Firmicutes","Bacteroidetes","Actinobacteria","Tenericutes","Fusobacteria","Cyanobacteria","Synergistetes","TM7","Deinococcus-Thermus","Spirochaetes","Acidobacteria","Gemmatimonadetes","Planctomycetes","Chloroflexi","Aquificae","Deferribacteres","Verrucomicrobia","Unclassified"],
   "range":["#3C6797","#983B39","#7C9A42","#634A81","#37889F","#CA7935","#4A7EBF","#C0504D","#9BBB59","#8064A2","#4BACC6","#F79646","#7F9ED0","#D79592","#B7D090","#A898C4","#8CC6D8","#F9B48A","#C2CCE2"]},
  "legend":{"title":null,"orient":"none","legendX":267,"legendY":0,"symbolType":"square","symbolSize":36,"symbolStrokeWidth":0,"labelFont":"Liberation Sans","labelFontSize":11,"labelFontWeight":"bold","labelColor":"#222222","labelOffset":8,"rowPadding":6,"labelLimit":200}},
 "order":{"field":"ord","type":"quantitative"}
}
}
]
}
